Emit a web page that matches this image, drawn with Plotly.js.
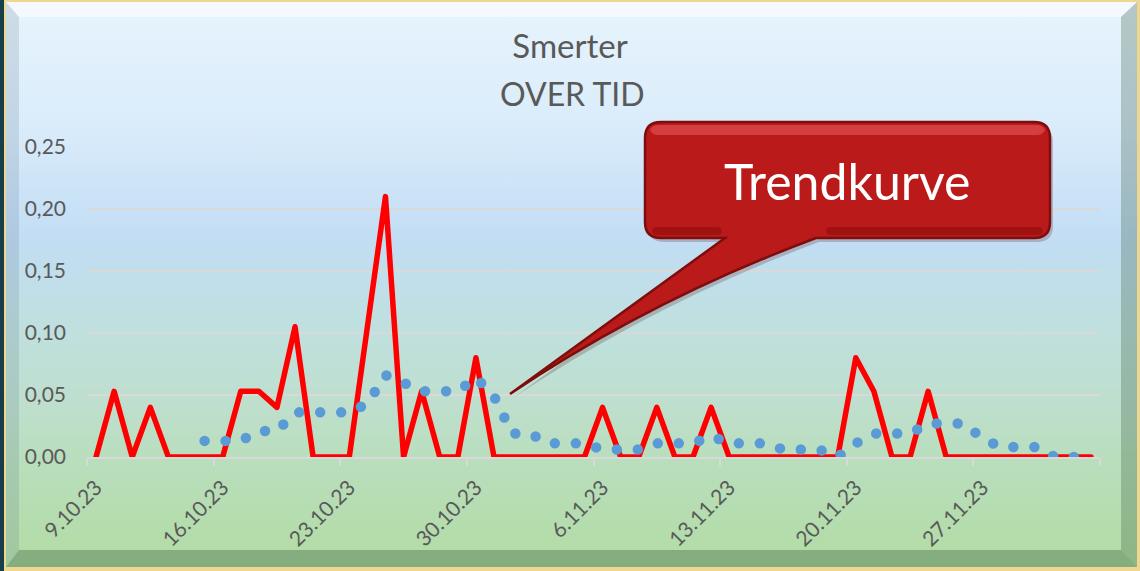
<!DOCTYPE html>
<html>
<head>
<meta charset="utf-8">
<script src="https://cdn.plot.ly/plotly-3.0.1.min.js"></script>
<style>
html,body{margin:0;padding:0;width:1140px;height:571px;overflow:hidden;background:#f1d68e;position:relative;}
#teal{position:absolute;left:0;top:0;width:4px;height:571px;background:#173f4b;}
#bg{position:absolute;left:6px;top:2px;width:1131px;height:565px;
  background:linear-gradient(to bottom,#e7f4fc 0%,#daecfb 22%,#c2ddf4 42%,#bfe0de 58%,#bedfcc 72%,#b8debb 82%,#b2dca4 100%);}
#bevel{position:absolute;left:6px;top:2px;width:1131px;height:565px;box-sizing:border-box;border-style:solid;
  border-width:15px 16px 17px 13px;
  border-color:rgba(255,255,255,0.55) rgba(40,75,45,0.26) rgba(40,75,45,0.32) rgba(70,95,120,0.16);}
#chart{position:absolute;left:0;top:0;width:1140px;height:571px;}
.js-line{stroke-linejoin:round;stroke-linecap:round;}
</style>
</head>
<body>
<div id="teal"></div>
<div id="bg"></div>
<div id="bevel"></div>
<div id="chart"></div>
<script>
// ---- data ----
const categories = [
 '9.10.23','10.10.23','11.10.23','12.10.23','13.10.23','14.10.23','15.10.23','16.10.23','17.10.23','18.10.23',
 '19.10.23','20.10.23','21.10.23','22.10.23','23.10.23','24.10.23','25.10.23','26.10.23','27.10.23','28.10.23',
 '29.10.23','30.10.23','31.10.23','1.11.23','2.11.23','3.11.23','4.11.23','5.11.23','6.11.23','7.11.23',
 '8.11.23','9.11.23','10.11.23','11.11.23','12.11.23','13.11.23','14.11.23','15.11.23','16.11.23','17.11.23',
 '18.11.23','19.11.23','20.11.23','21.11.23','22.11.23','23.11.23','24.11.23','25.11.23','26.11.23','27.11.23',
 '28.11.23','29.11.23','30.11.23','1.12.23','2.12.23','3.12.23'
];
const painValues = [
 0, 0.053, 0, 0.04, 0, 0, 0, 0, 0.053, 0.053,
 0.04, 0.105, 0, 0, 0, 0.105, 0.21, 0, 0.053, 0,
 0, 0.08, 0, 0, 0, 0, 0, 0, 0.04, 0,
 0, 0.04, 0, 0, 0.04, 0, 0, 0, 0, 0,
 0, 0, 0.08, 0.053, 0, 0, 0.053, 0, 0, 0,
 0, 0, 0, 0, 0, 0
];
const trendValues = [
 null, null, null, null, null, null, 0.013, 0.013, 0.013, 0.021,
 0.021, 0.036, 0.036, 0.036, 0.036, 0.043, 0.066, 0.060, 0.053, 0.053,
 0.053, 0.064, 0.049, 0.019, 0.019, 0.011, 0.011, 0.011, 0.006, 0.006,
 0.006, 0.011, 0.011, 0.011, 0.017, 0.011, 0.011, 0.011, 0.006, 0.006,
 0.006, 0, 0.011, 0.019, 0.019, 0.019, 0.027, 0.027, 0.027, 0.015,
 0.008, 0.008, 0.008, 0, 0, 0
];
const tickLabels = ['9.10.23','16.10.23','23.10.23','30.10.23','6.11.23','13.11.23','20.11.23','27.11.23'];
const titleLine1 = 'Smerter';
const titleLine2 = 'OVER TID';
const calloutText = 'Trendkurve';

// ---- layout helpers ----
const idx = categories.map((c, i) => i);
const tickIdx = tickLabels.map(t => categories.indexOf(t));
const boundaries = [];
for (let b = -0.5; b <= categories.length - 0.5; b += 7) boundaries.push(b);

const ML = 87, MR = 40, MT = 147, MB = 114, W = 1140, H = 571;
const PW = W - ML - MR, PH = H - MT - MB, Y0 = H - MB;
function X(px){ return (px - ML) / PW; }
function Yp(py){ return (Y0 - py) / PH; }
function pt(px, py){ return X(px).toFixed(5) + ',' + Yp(py).toFixed(5); }

function calloutPath(dx, dy){
  const bx0 = 645+dx, bx1 = 1050+dx, by0 = 122+dy, by1 = 238+dy, r = 16;
  return 'M' + pt(bx0+r, by0) + ' L' + pt(bx1-r, by0) +
    ' Q' + pt(bx1, by0) + ' ' + pt(bx1, by0+r) +
    ' L' + pt(bx1, by1-r) +
    ' Q' + pt(bx1, by1) + ' ' + pt(bx1-r, by1) +
    ' L' + pt(816+dx, by1) +
    ' Q' + pt(650+dx, 300+dy) + ' ' + pt(510+dx, 394+dy) +
    ' Q' + pt(640+dx, 300+dy) + ' ' + pt(725+dx, by1) +
    ' L' + pt(bx0+r, by1) +
    ' Q' + pt(bx0, by1) + ' ' + pt(bx0, by1-r) +
    ' L' + pt(bx0, by0+r) +
    ' Q' + pt(bx0, by0) + ' ' + pt(bx0+r, by0) + ' Z';
}
function roundRect(x0, y0, x1, y1, r){
  return 'M' + pt(x0+r, y0) + ' L' + pt(x1-r, y0) +
    ' Q' + pt(x1, y0) + ' ' + pt(x1, y0+r) +
    ' L' + pt(x1, y1-r) + ' Q' + pt(x1, y1) + ' ' + pt(x1-r, y1) +
    ' L' + pt(x0+r, y1) + ' Q' + pt(x0, y1) + ' ' + pt(x0, y1-r) +
    ' L' + pt(x0, y0+r) + ' Q' + pt(x0, y0) + ' ' + pt(x0+r, y0) + ' Z';
}

const traces = [
  {
    x: idx, y: painValues, type: 'scatter', mode: 'lines',
    line: {color: '#ff0000', width: 5.5}, hoverinfo: 'skip', showlegend: false
  },
  {
    x: idx, y: trendValues, type: 'scatter', mode: 'lines',
    line: {color: '#5b9bd5', width: 10.5, dash: '0px,21px'}, connectgaps: false,
    hoverinfo: 'skip', showlegend: false
  }
];

const tickFont = {family: 'Lato, sans-serif', size: 21, color: '#595959'};

const layout = {
  width: W, height: H,
  margin: {l: ML, r: MR, t: MT, b: MB, pad: 0},
  paper_bgcolor: 'rgba(0,0,0,0)',
  plot_bgcolor: 'rgba(0,0,0,0)',
  separators: ', ',
  font: {family: 'Lato, sans-serif', color: '#595959'},
  showlegend: false,
  title: {
    text: titleLine1, x: 0.5, xref: 'container', xanchor: 'center',
    y: 1 - 46/H, yref: 'container', yanchor: 'middle',
    font: {family: 'Lato, sans-serif', size: 33, color: '#595959'}
  },
  xaxis: {
    type: 'linear', range: [-0.5, categories.length - 0.5], fixedrange: true,
    tickmode: 'array', tickvals: tickIdx, ticktext: tickLabels,
    tickangle: -45, ticks: '', ticklabelstandoff: 8,
    tickfont: tickFont,
    showgrid: false, zeroline: false,
    showline: true, linecolor: '#d9d9d9', linewidth: 2,
    minor: {tickmode: 'array', tickvals: boundaries, ticks: 'outside', ticklen: 7,
            tickwidth: 2, tickcolor: '#d9d9d9', showgrid: false}
  },
  yaxis: {
    range: [0, 0.25], fixedrange: true, tickmode: 'linear', tick0: 0, dtick: 0.05,
    tickformat: '.2f', ticks: '', ticklabelstandoff: 20, tickfont: tickFont,
    showgrid: true, gridcolor: '#d9d9d9', gridwidth: 2,
    zeroline: false, showline: false
  },
  shapes: [
    {type: 'path', xref: 'paper', yref: 'paper', path: calloutPath(3, 4),
     fillcolor: 'rgba(60,0,0,0.20)', line: {width: 0}},
    {type: 'path', xref: 'paper', yref: 'paper', path: calloutPath(0, 0),
     fillcolor: '#bb1a1a', line: {color: '#7e0d0d', width: 2.5}},
    {type: 'path', xref: 'paper', yref: 'paper', path: roundRect(650, 125, 1045, 135, 8),
     fillcolor: 'rgba(255,120,120,0.38)', line: {width: 0}},
    {type: 'path', xref: 'paper', yref: 'paper', path: roundRect(652, 227, 722, 235, 5),
     fillcolor: 'rgba(90,0,0,0.28)', line: {width: 0}},
    {type: 'path', xref: 'paper', yref: 'paper', path: roundRect(826, 227, 1043, 235, 5),
     fillcolor: 'rgba(90,0,0,0.28)', line: {width: 0}}
  ],
  annotations: [
    {text: titleLine2, xref: 'paper', yref: 'paper', x: X(572), y: Yp(93),
     xanchor: 'center', yanchor: 'middle', showarrow: false,
     font: {family: 'Lato, sans-serif', size: 32, color: '#595959'}},
    {text: calloutText, xref: 'paper', yref: 'paper', x: X(847), y: Yp(181),
     xanchor: 'center', yanchor: 'middle', showarrow: false,
     font: {family: 'Lato, sans-serif', size: 50, color: '#ffffff'}}
  ]
};

Plotly.newPlot('chart', traces, layout, {displayModeBar: false, staticPlot: true});
</script>
</body>
</html>
